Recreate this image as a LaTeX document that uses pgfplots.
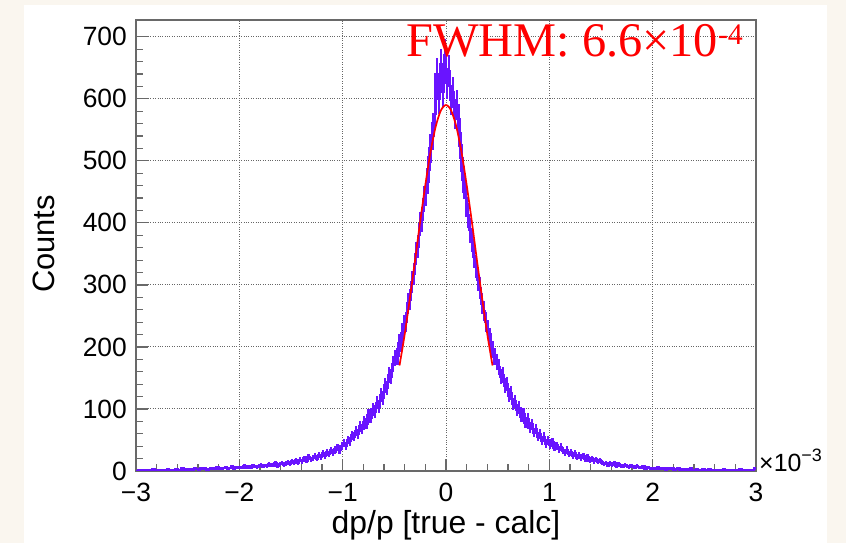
\documentclass[border=0pt]{standalone}
\usepackage{fontspec}
\setmainfont{Liberation Sans}
\newfontfamily\tnr{Liberation Serif}
\usepackage{pgfplots}
\usepackage{pgfplotstable}
\pgfplotsset{compat=1.18}
\definecolor{bgbeige}{RGB}{250,246,239}
\definecolor{histviolet}{RGB}{105,20,255}
\definecolor{axgray}{RGB}{105,105,105}
\pgfplotstableread[row sep=\\]{
x y \\
-2.99 1 \\ -2.97 0 \\ -2.95 2 \\ -2.93 1 \\ -2.91 1 \\ -2.89 0 \\ -2.87 2 \\ -2.85 1 \\ -2.83 3 \\ -2.81 1 \\ -2.79 0 \\ -2.77 2 \\ -2.75 1 \\ -2.73 2 \\ -2.71 1 \\ -2.69 3 \\ -2.67 2 \\ -2.65 1 \\ -2.63 2 \\ -2.61 3 \\ -2.59 1 \\ -2.57 2 \\ -2.55 4 \\ -2.53 2 \\ -2.51 3 \\
-2.49 2 \\ -2.47 3 \\ -2.45 2 \\ -2.43 4 \\ -2.41 3 \\ -2.39 2 \\ -2.37 5 \\ -2.35 3 \\ -2.33 4 \\ -2.31 2 \\ -2.29 3 \\ -2.27 5 \\ -2.25 4 \\ -2.23 3 \\ -2.21 6 \\ -2.19 4 \\ -2.17 3 \\ -2.15 5 \\ -2.13 6 \\ -2.11 4 \\ -2.09 5 \\ -2.07 7 \\ -2.05 4 \\ -2.03 6 \\ -2.01 5 \\
-1.99 6 \\ -1.97 5 \\ -1.95 8 \\ -1.93 6 \\ -1.91 7 \\ -1.89 5 \\ -1.87 9 \\ -1.85 7 \\ -1.83 6 \\ -1.81 8 \\ -1.79 10 \\ -1.77 7 \\ -1.75 9 \\ -1.73 8 \\ -1.71 11 \\ -1.69 9 \\ -1.67 10 \\ -1.65 12 \\ -1.63 8 \\ -1.61 11 \\ -1.59 13 \\ -1.57 10 \\ -1.55 12 \\ -1.53 14 \\ -1.51 11 \\
-1.49 15 \\ -1.47 13 \\ -1.45 17 \\ -1.43 14 \\ -1.41 18 \\ -1.39 16 \\ -1.37 20 \\ -1.35 17 \\ -1.33 22 \\ -1.31 19 \\ -1.29 21 \\ -1.27 24 \\ -1.25 20 \\ -1.23 26 \\ -1.21 23 \\ -1.19 28 \\ -1.17 25 \\ -1.15 30 \\ -1.13 27 \\ -1.11 33 \\ -1.09 29 \\ -1.07 35 \\ -1.05 38 \\ -1.03 34 \\ -1.01 40 \\
-0.99 45 \\ -0.97 41 \\ -0.95 50 \\ -0.93 48 \\ -0.91 57 \\ -0.89 55 \\ -0.87 64 \\ -0.85 60 \\ -0.83 72 \\ -0.81 68 \\ -0.79 79 \\ -0.77 76 \\ -0.75 90 \\ -0.73 86 \\ -0.71 99 \\ -0.69 96 \\ -0.67 110 \\ -0.65 104 \\ -0.63 122 \\ -0.61 118 \\ -0.59 138 \\ -0.57 134 \\ -0.55 155 \\ -0.53 152 \\ -0.51 172 \\
-0.49 182 \\ -0.47 185 \\ -0.45 206 \\ -0.43 210 \\ -0.41 236 \\ -0.39 240 \\ -0.37 270 \\ -0.35 276 \\ -0.33 305 \\ -0.31 318 \\ -0.29 350 \\ -0.27 362 \\ -0.25 398 \\ -0.23 405 \\ -0.21 438 \\ -0.19 448 \\ -0.17 486 \\ -0.15 520 \\ -0.13 540 \\ -0.11 575 \\ -0.09 640 \\ -0.07 600 \\ -0.05 655 \\ -0.03 612 \\ -0.01 670 \\
0.01 625 \\ 0.03 645 \\ 0.05 598 \\ 0.07 610 \\ 0.09 575 \\ 0.11 590 \\ 0.13 545 \\ 0.15 505 \\ 0.17 470 \\ 0.19 440 \\ 0.21 412 \\ 0.23 388 \\ 0.25 372 \\ 0.27 345 \\ 0.29 330 \\ 0.31 308 \\ 0.33 295 \\ 0.35 270 \\ 0.37 258 \\ 0.39 240 \\ 0.41 228 \\ 0.43 208 \\ 0.45 196 \\ 0.47 185 \\ 0.49 176 \\
0.51 168 \\ 0.53 152 \\ 0.55 155 \\ 0.57 138 \\ 0.59 140 \\ 0.61 122 \\ 0.63 126 \\ 0.65 108 \\ 0.67 112 \\ 0.69 98 \\ 0.71 102 \\ 0.73 88 \\ 0.75 92 \\ 0.77 78 \\ 0.79 84 \\ 0.81 70 \\ 0.83 75 \\ 0.85 62 \\ 0.87 68 \\ 0.89 55 \\ 0.91 60 \\ 0.93 49 \\ 0.95 55 \\ 0.97 44 \\ 0.99 50 \\
1.01 42 \\ 1.03 46 \\ 1.05 38 \\ 1.07 41 \\ 1.09 35 \\ 1.11 39 \\ 1.13 33 \\ 1.15 30 \\ 1.17 34 \\ 1.19 27 \\ 1.21 30 \\ 1.23 25 \\ 1.25 28 \\ 1.27 22 \\ 1.29 26 \\ 1.31 21 \\ 1.33 24 \\ 1.35 19 \\ 1.37 22 \\ 1.39 17 \\ 1.41 20 \\ 1.43 16 \\ 1.45 19 \\ 1.47 15 \\ 1.49 17 \\
1.51 14 \\ 1.53 11 \\ 1.55 13 \\ 1.57 9 \\ 1.59 12 \\ 1.61 10 \\ 1.63 13 \\ 1.65 8 \\ 1.67 11 \\ 1.69 9 \\ 1.71 7 \\ 1.73 10 \\ 1.75 8 \\ 1.77 6 \\ 1.79 9 \\ 1.81 7 \\ 1.83 5 \\ 1.85 8 \\ 1.87 6 \\ 1.89 5 \\ 1.91 7 \\ 1.93 4 \\ 1.95 6 \\ 1.97 5 \\ 1.99 4 \\
2.01 5 \\ 2.03 3 \\ 2.05 6 \\ 2.07 4 \\ 2.09 3 \\ 2.11 5 \\ 2.13 2 \\ 2.15 4 \\ 2.17 3 \\ 2.19 5 \\ 2.21 2 \\ 2.23 3 \\ 2.25 4 \\ 2.27 2 \\ 2.29 3 \\ 2.31 1 \\ 2.33 3 \\ 2.35 2 \\ 2.37 4 \\ 2.39 2 \\ 2.41 1 \\ 2.43 3 \\ 2.45 2 \\ 2.47 1 \\ 2.49 3 \\
2.51 2 \\ 2.53 1 \\ 2.55 3 \\ 2.57 1 \\ 2.59 2 \\ 2.61 1 \\ 2.63 0 \\ 2.65 2 \\ 2.67 1 \\ 2.69 3 \\ 2.71 1 \\ 2.73 2 \\ 2.75 0 \\ 2.77 1 \\ 2.79 2 \\ 2.81 1 \\ 2.83 1 \\ 2.85 3 \\ 2.87 1 \\ 2.89 0 \\ 2.91 2 \\ 2.93 1 \\ 2.95 1 \\ 2.97 2 \\ 2.99 4 \\
}\hist
\begin{document}
\begin{tikzpicture}[x=1bp,y=1bp]
\fill[bgbeige] (0,0) rectangle (846,543);
\fill[white] (24,0) rectangle (827,538);
\begin{axis}[
  at={(136bp,72bp)}, anchor=south west,
  width=620bp, height=451bp, scale only axis,
  xmin=-3, xmax=3, ymin=0, ymax=727,
  xtick={-3,-2,-1,0,1,2,3},
  xticklabels={−3,−2,−1,0,1,2,3},
  ytick={0,100,200,300,400,500,600,700},
  yticklabels={0,100,200,300,400,500,600,700},
  minor x tick num=4, minor y tick num=4,
  tick align=inside, tick pos=left,
  major tick length=12bp, minor tick length=7bp,
  every tick/.style={axgray, line width=1.3bp},
  minor tick style={axgray, line width=1.1bp},
  axis line style={axgray, line width=1.6bp},
  grid=major,
  major grid style={black!60, dotted, line width=1bp},
  tick label style={font=\fontsize{26.5}{30}\selectfont, text=black, inner sep=0pt},
  xticklabel style={yshift=-12bp},
  yticklabel style={xshift=-9bp},
  clip=true,
]
\addplot[histviolet, line width=2.4bp, const plot mark mid,
  error bars/.cd, y dir=both, y explicit,
  error bar style={histviolet, line width=2.2bp}, error mark=none]
  table[x=x, y=y, y error expr=sqrt(\thisrow{y})] {\hist};
\addplot[red, line width=1.7bp, smooth] coordinates {
(-0.45,170) (-0.40,220) (-0.35,278) (-0.30,339) (-0.25,402) (-0.20,461) (-0.15,514) (-0.10,555) (-0.05,581) (0.00,590) (0.05,581) (0.10,555) (0.15,514) (0.20,461) (0.25,402) (0.30,339) (0.35,278) (0.40,220) (0.45,170)
};
\end{axis}
\node[anchor=base west, text=red, inner sep=0pt] at (406,486) {\tnr\fontsize{48.5}{52}\selectfont FWHM: 6.6×10\raisebox{12bp}{\fontsize{30}{30}\selectfont -4}};
\node[anchor=base west, inner sep=0pt] at (759,71) {\fontsize{25}{28}\selectfont ×10\raisebox{10bp}{\fontsize{18}{20}\selectfont −3}};
\node[anchor=center, inner sep=0pt] at (446,18) {\fontsize{32}{36}\selectfont dp/p [true - calc]};
\node[anchor=center, rotate=90, inner sep=0pt] at (44,299) {\fontsize{31}{34}\selectfont Counts};
\end{tikzpicture}
\end{document}
